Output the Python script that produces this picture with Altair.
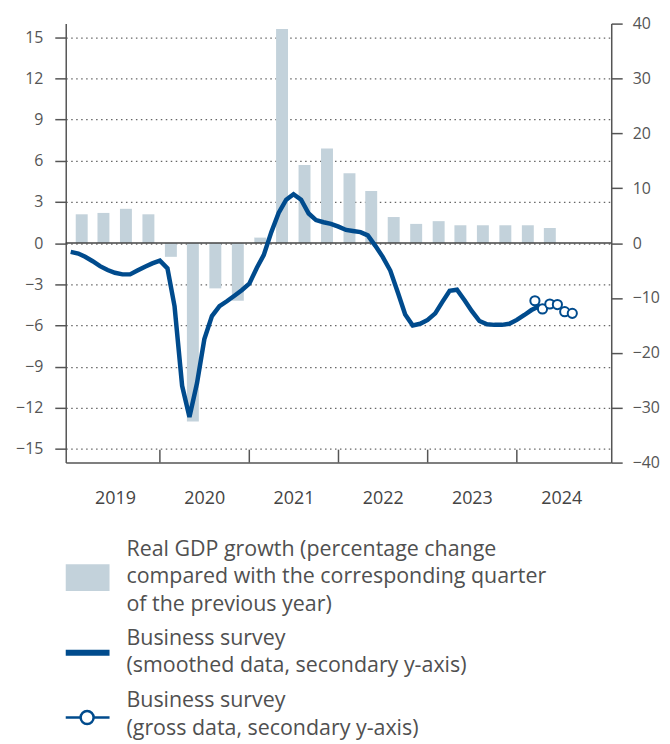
import altair as alt
import pandas as pd

# ---------------- data ----------------
years = [2019, 2020, 2021, 2022, 2023, 2024]

# quarterly real GDP growth, Q1 2019 .. Q2 2024 (left axis, %)
gdp_growth = [2.1, 2.2, 2.5, 2.1,
              -1.0, -13.0, -3.3, -4.2,
              0.4, 15.6, 5.7, 6.9,
              5.1, 3.8, 1.9, 1.4,
              1.6, 1.3, 1.3, 1.3,
              1.3, 1.1]
quarter_dates = [f"{y}-{m:02d}-15T00:00:00" for y in years for m in (2, 5, 8, 11)][:len(gdp_growth)]

# business survey, smoothed, monthly Jan 2019 .. Apr 2024 (right axis)
survey_smoothed = [
    -1.6, -1.9, -2.5, -3.3, -4.2, -4.9, -5.4, -5.7, -5.7, -5.0, -4.3, -3.7,
    -3.2, -4.6, -11.5, -26.0, -31.7, -25.5, -17.5, -13.3, -11.5, -10.6, -9.6, -8.6,
    -7.4, -4.5, -2.2, 2.0, 5.5, 7.9, 8.9, 7.9, 5.4, 4.2, 3.8, 3.5,
    3.0, 2.4, 2.2, 2.0, 1.4, -0.5, -2.5, -5.0, -9.0, -13.0, -15.0, -14.7,
    -14.0, -12.8, -10.8, -8.7, -8.5, -10.4, -12.4, -14.2, -14.8, -14.9, -14.9, -14.7,
    -14.0, -13.1, -12.2, -11.5,
]
smoothed_dates = list(pd.date_range("2019-01-01", periods=len(survey_smoothed), freq="MS")
                      .strftime("%Y-%m-%dT00:00:00"))

# business survey, gross data, monthly Mar .. Aug 2024 (right axis)
survey_gross = [-10.5, -12.0, -11.1, -11.2, -12.5, -12.8]
gross_dates = [f"2024-{m:02d}-15T00:00:00" for m in range(3, 9)]

left_ticks = [-15, -12, -9, -6, -3, 0, 3, 6, 9, 12, 15]
right_ticks = [-40, -30, -20, -10, 0, 10, 20, 30, 40]

legend_bar = ["Real GDP growth (percentage change",
              "compared with the corresponding quarter",
              "of the previous year)"]
legend_smooth = ["Business survey", "(smoothed data, secondary y-axis)"]
legend_gross = ["Business survey", "(gross data, secondary y-axis)"]

# ---------------- style ----------------
W, H = 548, 441
BLUE = "#004b8d"
BAR = "#c3d2db"
AXIS = "#555555"
TEXT = "#505050"
FONT = "Open Sans"

bar_df = pd.DataFrame({"date": quarter_dates, "gdp": gdp_growth})
line_df = pd.DataFrame({"date": smoothed_dates, "v": survey_smoothed})
gross_df = pd.DataFrame({"date": gross_dates, "v": survey_gross})
year_df = pd.DataFrame({"date": [f"{y}-01-01T00:00:00" for y in years[1:]]})

x_scale = alt.Scale(domain=[alt.DateTime(year=2019, month=1, date=1),
                            alt.DateTime(year=2025, month=1, date=1)])
x_axis = alt.Axis(values=[alt.DateTime(year=y, month=7, date=1) for y in years],
                  format="%Y", ticks=False, grid=False, labelPadding=27, title=None,
                  labelFontSize=18, labelColor="#444444")
left_scale = alt.Scale(domain=[-16, 16], nice=False, zero=False)
right_scale = alt.Scale(domain=[-40, 40], nice=False, zero=False)

left_axis = alt.Axis(orient="left", values=left_ticks, tickSize=11, labelPadding=12,
                     grid=True, gridDash=[1.5, 3.5], gridColor="#666666", gridWidth=1.3,
                     title=None)
right_axis = alt.Axis(orient="right", values=right_ticks, tickSize=11, labelPadding=10,
                      grid=False, title=None)


def xenc():
    return alt.X("date:T", scale=x_scale, axis=x_axis, title=None)


bars = alt.Chart(bar_df).mark_bar(color=BAR, size=12).encode(
    x=xenc(),
    y=alt.Y("gdp:Q", scale=left_scale, axis=left_axis, title=None),
)
zero = alt.Chart(pd.DataFrame({"gdp": [0]})).mark_rule(color="#444444", strokeWidth=1.5).encode(
    y=alt.Y("gdp:Q", scale=left_scale, axis=left_axis, title=None)
)
year_ticks = alt.Chart(year_df).mark_rule(color=AXIS, strokeWidth=1.5).encode(
    x=xenc(),
    y=alt.value(H - 13), y2=alt.value(H),
)
left_layer = alt.layer(bars, zero, year_ticks)

smooth_line = alt.Chart(line_df).mark_line(color=BLUE, strokeWidth=4.5).encode(
    x=xenc(),
    y=alt.Y("v:Q", scale=right_scale, axis=right_axis, title=None),
)
gross_line = alt.Chart(gross_df).mark_line(color=BLUE, strokeWidth=2).encode(
    x=xenc(),
    y=alt.Y("v:Q", scale=right_scale, axis=right_axis, title=None),
)
gross_pts = alt.Chart(gross_df).mark_point(
    shape="circle", filled=True, fill="white", stroke=BLUE, strokeWidth=2, size=85, opacity=1
).encode(
    x=xenc(),
    y=alt.Y("v:Q", scale=right_scale, axis=right_axis, title=None),
)
right_layer = alt.layer(smooth_line, gross_line, gross_pts)

# ---------------- legend (drawn below the plot) ----------------
one = pd.DataFrame({"k": [0]})
LX = 61
STEP = 27.4
legend_parts = []
legend_parts.append(alt.Chart(one).mark_rect(color=BAR).encode(
    x=alt.value(0), x2=alt.value(44), y=alt.value(543), y2=alt.value(570)))
legend_parts.append(alt.Chart(one).mark_rule(color=BLUE, strokeWidth=6).encode(
    x=alt.value(0), x2=alt.value(44), y=alt.value(632)))
legend_parts.append(alt.Chart(one).mark_rule(color=BLUE, strokeWidth=2.5).encode(
    x=alt.value(0), x2=alt.value(44), y=alt.value(697)))
legend_parts.append(alt.Chart(one).mark_point(
    shape="circle", filled=True, fill="white", stroke=BLUE, strokeWidth=2.5, size=170, opacity=1
).encode(x=alt.value(21.5), y=alt.value(697)))


def text_lines(lines, y0):
    out = []
    for i, t in enumerate(lines):
        out.append(alt.Chart(pd.DataFrame({"t": [t]})).mark_text(
            align="left", baseline="middle", font=FONT, fontSize=21.5, color=TEXT
        ).encode(text="t:N", x=alt.value(LX), y=alt.value(y0 + i * STEP)))
    return out


legend_parts += text_lines(legend_bar, 529)
legend_parts += text_lines(legend_smooth, 618)
legend_parts += text_lines(legend_gross, 681)
legend_layer = alt.layer(*legend_parts)

chart = alt.layer(left_layer, right_layer, legend_layer).resolve_scale(
    y="independent"
).properties(
    width=W, height=H,
    padding={"left": 7, "top": 6, "right": 2, "bottom": 0},
).configure_view(stroke=None).configure_axis(
    labelFont=FONT, labelColor=AXIS, labelFontSize=16,
    domainColor=AXIS, tickColor=AXIS, domainWidth=1.5, tickWidth=1.5,
)

chart.save("out.html", embed_options={"renderer": "svg", "actions": False})
